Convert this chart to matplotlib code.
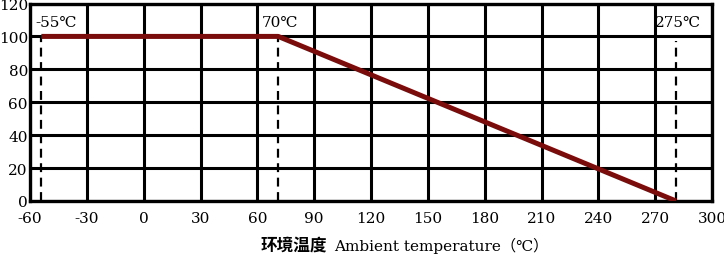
import matplotlib
matplotlib.use("Agg")
import matplotlib.pyplot as plt

plt.rcParams["axes.unicode_minus"] = False

# ==========================
# DATA
# ==========================

curve_temp = [-54, 71, 281]
curve_load = [100, 100, 0]

marker_temp = [-54, 71, 281]
marker_top = [100, 100, 97]
marker_text = ["-55℃", "70℃", "275℃"]

x_ticks = [-60, -30, 0, 30, 60, 90, 120, 150, 180, 210, 240, 270, 300]
y_ticks = [0, 20, 40, 60, 80, 100, 120]

serif = ["DejaVu Serif", "Noto Sans CJK SC"]

# ==========================
# PLOT
# ==========================

fig = plt.figure(figsize=(7.24, 2.55), dpi=100)
ax = fig.add_axes([30 / 724, 53 / 255, 682 / 724, 197.5 / 255])

ax.set_xlim(-60, 300)
ax.set_ylim(0, 120)
ax.set_xticks(x_ticks)
ax.set_yticks(y_ticks)

ax.grid(True, color="black", linewidth=2.2)
ax.set_axisbelow(True)
for s in ax.spines.values():
    s.set_linewidth(2.4)
    s.set_color("black")

ax.tick_params(axis="x", length=0, pad=7, labelsize=11)
ax.tick_params(axis="y", length=0, pad=1.5, labelsize=11)
for lab in ax.get_xticklabels() + ax.get_yticklabels():
    lab.set_family(serif)

# dashed guide lines
for t, top in zip(marker_temp, marker_top):
    ax.plot([t, t], [0, top], color="black", linestyle=(0, (4, 2.5)),
            linewidth=1.6, zorder=3)

# derating curve
ax.plot(curve_temp, curve_load, color="#7a0c0c", linewidth=3.6,
        solid_capstyle="butt", zorder=4)

# temperature labels
ax.text(-57, 109, marker_text[0], ha="left", va="center",
        fontsize=11, family=serif)
ax.text(72, 109, marker_text[1], ha="center", va="center",
        fontsize=11, family=serif)
ax.text(282, 109, marker_text[2], ha="center", va="center",
        fontsize=11, family=serif)

# axis title: Chinese part bold, English part regular
fig.text(261 / 724, 9 / 255, "环境温度", ha="left", va="center",
         fontsize=12, fontweight="bold", family="Noto Sans CJK SC")
fig.text(334 / 724, 9 / 255, "Ambient temperature（℃）", ha="left",
         va="center", fontsize=11, family=serif)

plt.savefig("out.png", dpi=100)
